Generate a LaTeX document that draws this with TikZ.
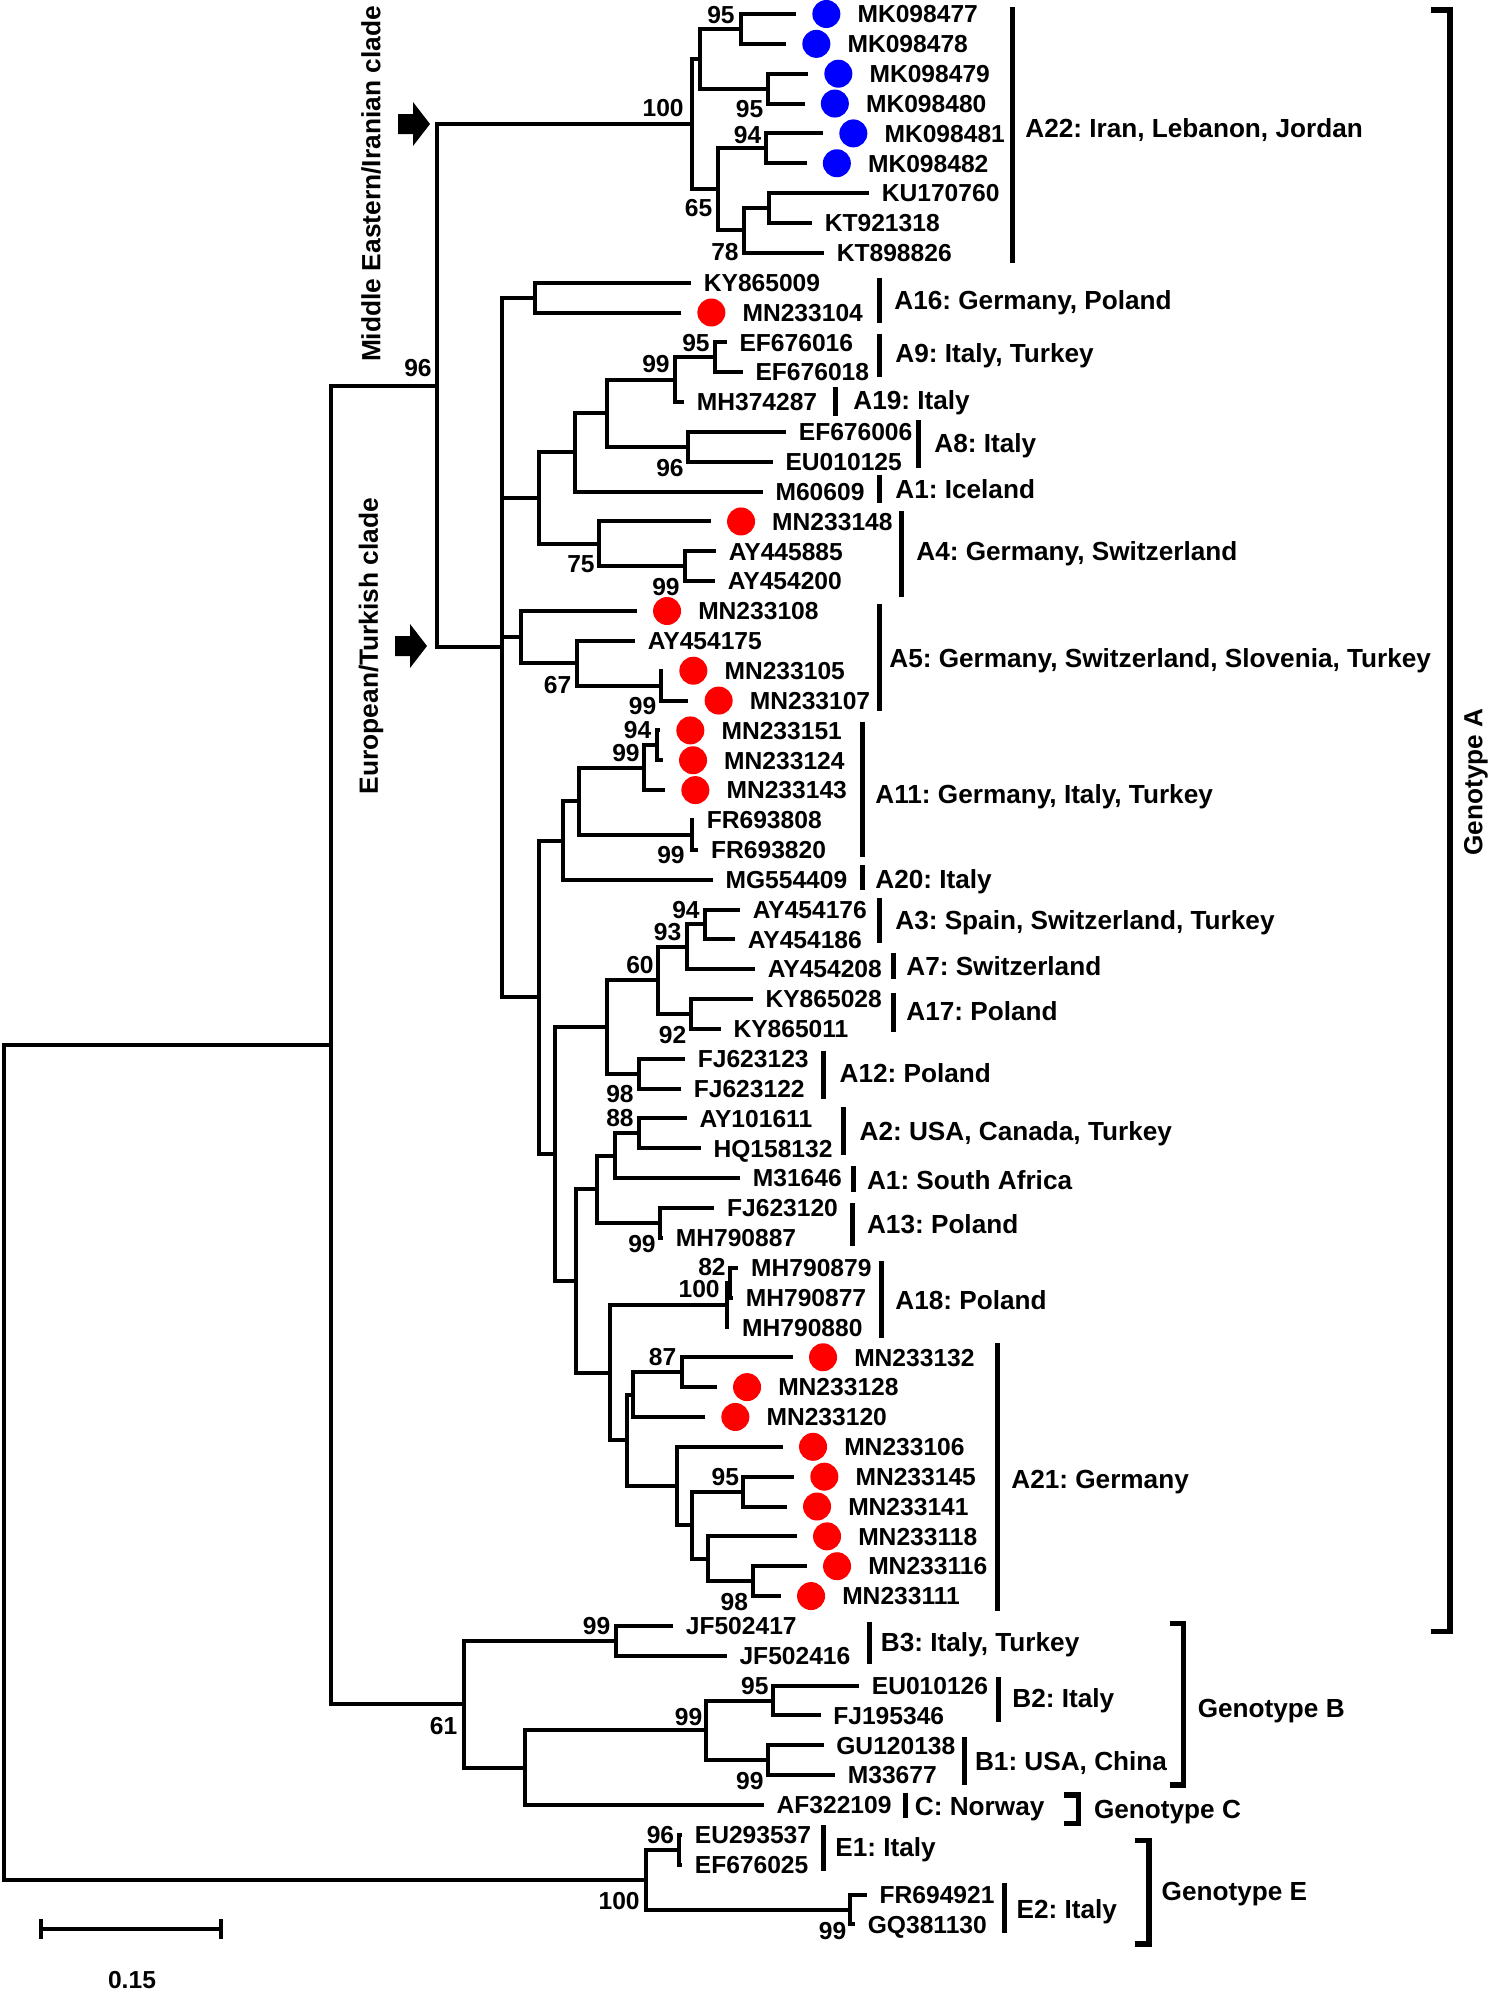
\documentclass[tikz,border=0pt]{standalone}
\usepackage{fontspec}
\setmainfont{Liberation Sans}
\usetikzlibrary{positioning}
\definecolor{dotblue}{RGB}{0,0,255}
\definecolor{dotred}{RGB}{255,0,0}
\frenchspacing

\begin{document}
\begin{tikzpicture}[x=0.02cm, y=-0.02cm,
    branch/.style={every edge/.style={draw, line width=0.08cm, to path={|- (\tikztotarget)}}},
    taxon/.style={font=\fontsize{14}{16}\selectfont\bfseries, inner sep=0pt, text height=0.35cm, text depth=0pt, anchor=west},
    group/.style={font=\fontsize{14.9}{17}\selectfont\bfseries, inner sep=0pt, text height=0.37cm, text depth=0pt, anchor=west},
    boot/.style={font=\fontsize{14}{16}\selectfont\bfseries, inner sep=0pt, text height=0.35cm, text depth=0pt, anchor=east},
    clade name/.style={font=\fontsize{15}{17}\selectfont\bfseries, inner sep=0pt, rotate=90},
    blue dot/.style={circle, fill=dotblue, minimum size=0.56cm, inner sep=0pt},
    red dot/.style={circle, fill=dotred, minimum size=0.56cm, inner sep=0pt},
    clade bar/.style={line width=0.1cm},
    genotype bar/.style={line width=0.11cm}]
    \useasboundingbox (0,0) rectangle (1490,1992);

    % tips
    \coordinate (t1) at (796,14);
    \coordinate (t2) at (786,43.85);
    \coordinate (t3) at (808,73.7);
    \coordinate (t4) at (804.5,103.55);
    \coordinate (t5) at (823,133.4);
    \coordinate (t6) at (806.5,163.25);
    \coordinate (t7) at (869,193.1);
    \coordinate (t8) at (812,222.95);
    \coordinate (t9) at (824,252.8);
    \coordinate (t10) at (691,282.65);
    \coordinate (t11) at (681,312.5);
    \coordinate (t12) at (726.7,342.35);
    \coordinate (t13) at (742.7,372.2);
    \coordinate (t14) at (684,402.05);
    \coordinate (t15) at (786,431.9);
    \coordinate (t16) at (772.7,461.75);
    \coordinate (t17) at (762.7,491.6);
    \coordinate (t18) at (710.7,521.45);
    \coordinate (t19) at (716,551.3);
    \coordinate (t20) at (715,581.15);
    \coordinate (t21) at (636.7,611);
    \coordinate (t22) at (635,640.85);
    \coordinate (t23) at (663,670.7);
    \coordinate (t24) at (688.3,700.55);
    \coordinate (t25) at (660,730.4);
    \coordinate (t26) at (662.7,760.25);
    \coordinate (t27) at (665,790.1);
    \coordinate (t28) at (694,819.95);
    \coordinate (t29) at (698.3,849.8);
    \coordinate (t30) at (712.7,879.65);
    \coordinate (t31) at (740,909.5);
    \coordinate (t32) at (735,939.35);
    \coordinate (t33) at (755,969.2);
    \coordinate (t34) at (752.7,999.05);
    \coordinate (t35) at (720.7,1028.9);
    \coordinate (t36) at (685,1058.75);
    \coordinate (t37) at (681,1088.6);
    \coordinate (t38) at (686.7,1118.45);
    \coordinate (t39) at (700.7,1148.3);
    \coordinate (t40) at (740,1178.15);
    \coordinate (t41) at (714.3,1208);
    \coordinate (t42) at (663,1237.85);
    \coordinate (t43) at (738.3,1267.7);
    \coordinate (t44) at (733,1297.55);
    \coordinate (t45) at (729.3,1327.4);
    \coordinate (t46) at (792.7,1357.25);
    \coordinate (t47) at (716.7,1387.1);
    \coordinate (t48) at (705,1416.95);
    \coordinate (t49) at (782.7,1446.8);
    \coordinate (t50) at (794,1476.65);
    \coordinate (t51) at (786.7,1506.5);
    \coordinate (t52) at (796.7,1536.35);
    \coordinate (t53) at (806.7,1566.2);
    \coordinate (t54) at (780.7,1596.05);
    \coordinate (t55) at (673,1625.9);
    \coordinate (t56) at (726.7,1655.75);
    \coordinate (t57) at (859,1685.6);
    \coordinate (t58) at (820.5,1715.45);
    \coordinate (t59) at (823.5,1745.3);
    \coordinate (t60) at (835,1775.15);
    \coordinate (t61) at (763.8,1805);
    \coordinate (t62) at (682,1834.85);
    \coordinate (t63) at (682,1864.7);
    \coordinate (t64) at (866.8,1894.55);
    \coordinate (t65) at (855,1924.4);

    % inner nodes
    \coordinate (root) at (4,1462.3);
    \coordinate (nAB) at (330.5,1045);
    \coordinate (n96) at (437,385.8);
    \coordinate (nME) at (692,124.1);
    \coordinate (a1) at (700.4,58.8);
    \coordinate (a1a) at (741.2,28.9);
    \coordinate (a1b) at (767.8,88.6);
    \coordinate (a2) at (718,189.4);
    \coordinate (a2a) at (765.7,148.3);
    \coordinate (a2b) at (744,230.4);
    \coordinate (a2c) at (768.6,208);
    \coordinate (nEU) at (501.7,647.4);
    \coordinate (b1) at (535,297.6);
    \coordinate (b2) at (539.3,498.1);
    \coordinate (b2a) at (575,452.4);
    \coordinate (b2c) at (607.3,413.2);
    \coordinate (b2d) at (675,379.7);
    \coordinate (b2f) at (715,357.3);
    \coordinate (b2e) at (688.3,446.8);
    \coordinate (b2b) at (599.3,543.8);
    \coordinate (b2g) at (685,566.2);
    \coordinate (b3) at (520.7,637.1);
    \coordinate (b3a) at (576.7,663.2);
    \coordinate (b3b) at (661,685.6);
    \coordinate (b4) at (539.3,997.3);
    \coordinate (c1) at (562.7,840.5);
    \coordinate (c1a) at (579.3,801.3);
    \coordinate (c1b) at (644.3,767.7);
    \coordinate (c1d) at (656.7,745.3);
    \coordinate (c1c) at (691.7,834.9);
    \coordinate (c2) at (555,1154);
    \coordinate (d1) at (606.7,1027);
    \coordinate (d1a) at (658.3,980.4);
    \coordinate (d1c) at (686.7,946.8);
    \coordinate (d1e) at (705,924.4);
    \coordinate (d1d) at (690.7,1014);
    \coordinate (d1b) at (639.3,1073.7);
    \coordinate (d2) at (576,1281);
    \coordinate (d2a) at (596.7,1189.3);
    \coordinate (d2c) at (615,1155.8);
    \coordinate (d2e) at (639.3,1133.4);
    \coordinate (d2d) at (660,1222.9);
    \coordinate (d2b) at (610,1372.7);
    \coordinate (d2f) at (726.7,1305);
    \coordinate (d2h) at (730,1282.6);
    \coordinate (d2g) at (626.7,1440.3);
    \coordinate (d2i) at (632.7,1394.6);
    \coordinate (d2k) at (681.7,1372.2);
    \coordinate (d2j) at (676.7,1486);
    \coordinate (d2l) at (691.7,1525.2);
    \coordinate (d2m) at (742.7,1491.6);
    \coordinate (d2n) at (707.7,1558.7);
    \coordinate (d2o) at (752.7,1581.1);
    \coordinate (nB) at (463.8,1704.3);
    \coordinate (e1) at (615.7,1640.8);
    \coordinate (e2) at (525,1767.7);
    \coordinate (e3) at (706.4,1730.4);
    \coordinate (e4) at (772.6,1700.5);
    \coordinate (e5) at (767.7,1760.2);
    \coordinate (nE) at (645.8,1879.6);
    \coordinate (f1) at (679,1849.8);
    \coordinate (f2) at (849.6,1909.5);

    \path[branch]
        (root) edge (nAB) edge (nE)
        (nAB) edge (n96) edge (nB)
        (n96) edge (nME) edge (nEU)
        (nME) edge (a1) edge (a2)
        (a1) edge (a1a) edge (a1b)
        (a1a) edge (t1) edge (t2)
        (a1b) edge (t3) edge (t4)
        (a2) edge (a2a) edge (a2b)
        (a2a) edge (t5) edge (t6)
        (a2b) edge (a2c) edge (t9)
        (a2c) edge (t7) edge (t8)

        (nEU) edge (b1) edge (b2) edge (b3) edge (b4)
        (b1) edge (t10) edge (t11)
        (b2) edge (b2a) edge (b2b)
        (b2a) edge (b2c) edge (t17)
        (b2c) edge (b2d) edge (b2e)
        (b2d) edge (b2f) edge (t14)
        (b2f) edge (t12) edge (t13)
        (b2e) edge (t15) edge (t16)
        (b2b) edge (t18) edge (b2g)
        (b2g) edge (t19) edge (t20)
        (b3) edge (t21) edge (b3a)
        (b3a) edge (t22) edge (b3b)
        (b3b) edge (t23) edge (t24)
        (b4) edge (c1) edge (c2)
        (c1) edge (c1a) edge (t30)
        (c1a) edge (c1b) edge (c1c)
        (c1b) edge (c1d) edge (t27)
        (c1d) edge (t25) edge (t26)
        (c1c) edge (t28) edge (t29)
        (c2) edge (d1) edge (d2)
        (d1) edge (d1a) edge (d1b)
        (d1a) edge (d1c) edge (d1d)
        (d1c) edge (d1e) edge (t33)
        (d1e) edge (t31) edge (t32)
        (d1d) edge (t34) edge (t35)
        (d1b) edge (t36) edge (t37)
        (d2) edge (d2a) edge (d2b)
        (d2a) edge (d2c) edge (d2d)
        (d2c) edge (d2e) edge (t40)
        (d2e) edge (t38) edge (t39)
        (d2d) edge (t41) edge (t42)
        (d2b) edge (d2f) edge (d2g)
        (d2f) edge (d2h) edge (t45)
        (d2h) edge (t43) edge (t44)
        (d2g) edge (d2i) edge (d2j)
        (d2i) edge (d2k) edge (t48)
        (d2k) edge (t46) edge (t47)
        (d2j) edge (t49) edge (d2l)
        (d2l) edge (d2m) edge (d2n)
        (d2m) edge (t50) edge (t51)
        (d2n) edge (t52) edge (d2o)
        (d2o) edge (t53) edge (t54)

        (nB) edge (e1) edge (e2)
        (e1) edge (t55) edge (t56)
        (e2) edge (e3) edge (t61)
        (e3) edge (e4) edge (e5)
        (e4) edge (t57) edge (t58)
        (e5) edge (t59) edge (t60)
        (nE) edge (f1) edge (f2)
        (f1) edge (t62) edge (t63)
        (f2) edge (t64) edge (t65)
    ;

    % taxa
    \node[blue dot, right=0.32cm of t1] (dot1) {};
    \node[taxon, right=0.33cm of dot1] (lab1) {MK098477};
    \node[blue dot, right=0.32cm of t2] (dot2) {};
    \node[taxon, right=0.33cm of dot2] (lab2) {MK098478};
    \node[blue dot, right=0.32cm of t3] (dot3) {};
    \node[taxon, right=0.33cm of dot3] (lab3) {MK098479};
    \node[blue dot, right=0.32cm of t4] (dot4) {};
    \node[taxon, right=0.33cm of dot4] (lab4) {MK098480};
    \node[blue dot, right=0.32cm of t5] (dot5) {};
    \node[taxon, right=0.33cm of dot5] (lab5) {MK098481};
    \node[blue dot, right=0.32cm of t6] (dot6) {};
    \node[taxon, right=0.33cm of dot6] (lab6) {MK098482};
    \node[taxon, right=0.25cm of t7] (lab7) {KU170760};
    \node[taxon, right=0.25cm of t8] (lab8) {KT921318};
    \node[taxon, right=0.25cm of t9] (lab9) {KT898826};
    \node[taxon, right=0.25cm of t10] (lab10) {KY865009};
    \node[red dot, right=0.32cm of t11] (dot11) {};
    \node[taxon, right=0.33cm of dot11] (lab11) {MN233104};
    \node[taxon, right=0.25cm of t12] (lab12) {EF676016};
    \node[taxon, right=0.25cm of t13] (lab13) {EF676018};
    \node[taxon, right=0.25cm of t14] (lab14) {MH374287};
    \node[taxon, right=0.25cm of t15] (lab15) {EF676006};
    \node[taxon, right=0.25cm of t16] (lab16) {EU010125};
    \node[taxon, right=0.25cm of t17] (lab17) {M60609};
    \node[red dot, right=0.32cm of t18] (dot18) {};
    \node[taxon, right=0.33cm of dot18] (lab18) {MN233148};
    \node[taxon, right=0.25cm of t19] (lab19) {AY445885};
    \node[taxon, right=0.25cm of t20] (lab20) {AY454200};
    \node[red dot, right=0.32cm of t21] (dot21) {};
    \node[taxon, right=0.33cm of dot21] (lab21) {MN233108};
    \node[taxon, right=0.25cm of t22] (lab22) {AY454175};
    \node[red dot, right=0.32cm of t23] (dot23) {};
    \node[taxon, right=0.33cm of dot23] (lab23) {MN233105};
    \node[red dot, right=0.32cm of t24] (dot24) {};
    \node[taxon, right=0.33cm of dot24] (lab24) {MN233107};
    \node[red dot, right=0.32cm of t25] (dot25) {};
    \node[taxon, right=0.33cm of dot25] (lab25) {MN233151};
    \node[red dot, right=0.32cm of t26] (dot26) {};
    \node[taxon, right=0.33cm of dot26] (lab26) {MN233124};
    \node[red dot, right=0.32cm of t27] (dot27) {};
    \node[taxon, right=0.33cm of dot27] (lab27) {MN233143};
    \node[taxon, right=0.25cm of t28] (lab28) {FR693808};
    \node[taxon, right=0.25cm of t29] (lab29) {FR693820};
    \node[taxon, right=0.25cm of t30] (lab30) {MG554409};
    \node[taxon, right=0.25cm of t31] (lab31) {AY454176};
    \node[taxon, right=0.25cm of t32] (lab32) {AY454186};
    \node[taxon, right=0.25cm of t33] (lab33) {AY454208};
    \node[taxon, right=0.25cm of t34] (lab34) {KY865028};
    \node[taxon, right=0.25cm of t35] (lab35) {KY865011};
    \node[taxon, right=0.25cm of t36] (lab36) {FJ623123};
    \node[taxon, right=0.25cm of t37] (lab37) {FJ623122};
    \node[taxon, right=0.25cm of t38] (lab38) {AY101611};
    \node[taxon, right=0.25cm of t39] (lab39) {HQ158132};
    \node[taxon, right=0.25cm of t40] (lab40) {M31646};
    \node[taxon, right=0.25cm of t41] (lab41) {FJ623120};
    \node[taxon, right=0.25cm of t42] (lab42) {MH790887};
    \node[taxon, right=0.25cm of t43] (lab43) {MH790879};
    \node[taxon, right=0.25cm of t44] (lab44) {MH790877};
    \node[taxon, right=0.25cm of t45] (lab45) {MH790880};
    \node[red dot, right=0.32cm of t46] (dot46) {};
    \node[taxon, right=0.33cm of dot46] (lab46) {MN233132};
    \node[red dot, right=0.32cm of t47] (dot47) {};
    \node[taxon, right=0.33cm of dot47] (lab47) {MN233128};
    \node[red dot, right=0.32cm of t48] (dot48) {};
    \node[taxon, right=0.33cm of dot48] (lab48) {MN233120};
    \node[red dot, right=0.32cm of t49] (dot49) {};
    \node[taxon, right=0.33cm of dot49] (lab49) {MN233106};
    \node[red dot, right=0.32cm of t50] (dot50) {};
    \node[taxon, right=0.33cm of dot50] (lab50) {MN233145};
    \node[red dot, right=0.32cm of t51] (dot51) {};
    \node[taxon, right=0.33cm of dot51] (lab51) {MN233141};
    \node[red dot, right=0.32cm of t52] (dot52) {};
    \node[taxon, right=0.33cm of dot52] (lab52) {MN233118};
    \node[red dot, right=0.32cm of t53] (dot53) {};
    \node[taxon, right=0.33cm of dot53] (lab53) {MN233116};
    \node[red dot, right=0.32cm of t54] (dot54) {};
    \node[taxon, right=0.33cm of dot54] (lab54) {MN233111};
    \node[taxon, right=0.25cm of t55] (lab55) {JF502417};
    \node[taxon, right=0.25cm of t56] (lab56) {JF502416};
    \node[taxon, right=0.25cm of t57] (lab57) {EU010126};
    \node[taxon, right=0.25cm of t58] (lab58) {FJ195346};
    \node[taxon, right=0.25cm of t59] (lab59) {GU120138};
    \node[taxon, right=0.25cm of t60] (lab60) {M33677};
    \node[taxon, right=0.25cm of t61] (lab61) {AF322109};
    \node[taxon, right=0.25cm of t62] (lab62) {EU293537};
    \node[taxon, right=0.25cm of t63] (lab63) {EF676025};
    \node[taxon, right=0.25cm of t64] (lab64) {FR694921};
    \node[taxon, right=0.25cm of t65] (lab65) {GQ381130};

    % bootstrap values
    \node[boot] (bs1) at (735,15) {95};
    \node[boot] (bs2) at (763.7,109) {95};
    \node[boot] (bs3) at (684,108) {100};
    \node[boot] (bs4) at (761.6,134.5) {94};
    \node[boot] (bs5) at (712.7,208) {65};
    \node[boot] (bs6) at (739,251.7) {78};
    \node[boot] (bs7) at (432,368) {96};
    \node[boot] (bs8) at (710,342.5) {95};
    \node[boot] (bs9) at (670,364) {99};
    \node[boot] (bs10) at (684,467.5) {96};
    \node[boot] (bs11) at (595,564) {75};
    \node[boot] (bs12) at (680,587) {99};
    \node[boot] (bs13) at (571.7,685) {67};
    \node[boot] (bs14) at (656.7,706) {99};
    \node[boot] (bs15) at (651.7,730) {94};
    \node[boot] (bs16) at (640,752.5) {99};
    \node[boot] (bs17) at (685,855) {99};
    \node[boot] (bs18) at (700,910) {94};
    \node[boot] (bs19) at (681.7,931.7) {93};
    \node[boot] (bs20) at (654,964.7) {60};
    \node[boot] (bs21) at (686.7,1035) {92};
    \node[boot] (bs22) at (634,1094) {98};
    \node[boot] (bs23) at (634,1118) {88};
    \node[boot] (bs24) at (656,1244) {99};
    \node[boot] (bs25) at (726,1267) {82};
    \node[boot] (bs26) at (720,1289) {100};
    \node[boot] (bs27) at (676.7,1357) {87};
    \node[boot] (bs28) at (739.3,1477) {95};
    \node[boot] (bs29) at (748.3,1602) {98};
    \node[boot] (bs30) at (610.7,1626) {99};
    \node[boot] (bs31) at (457.7,1726) {61};
    \node[boot] (bs32) at (702.6,1717) {99};
    \node[boot] (bs33) at (768.8,1686) {95};
    \node[boot] (bs34) at (763.8,1781) {99};
    \node[boot] (bs35) at (674.5,1835) {96};
    \node[boot] (bs36) at (640,1901) {100};
    \node[boot] (bs37) at (846.7,1931) {99};

    % subgenotype bars
    \draw[clade bar] (1012,7) -- (1012,263);
    \node[group] (A22) at (1025,128) {A22: Iran, Lebanon, Jordan};
    \draw[clade bar] (879,278) -- (879,322.7);
    \node[group] (A16) at (894,300) {A16: Germany, Poland};
    \draw[clade bar] (879,334) -- (879,377);
    \node[group] (A9) at (895,353) {A9: Italy, Turkey};
    \draw[clade bar] (835,386.7) -- (835,416);
    \node[group] (A19) at (853,400) {A19: Italy};
    \draw[clade bar] (918,420) -- (918,468);
    \node[group] (A8) at (934,443) {A8: Italy};
    \draw[clade bar] (879,475) -- (879,503);
    \node[group] (A1i) at (895,489) {A1: Iceland};
    \draw[clade bar] (901.7,510.7) -- (901.7,597);
    \node[group] (A4) at (916,551) {A4: Germany, Switzerland};
    \draw[clade bar] (879,604) -- (879,710.7);
    \node[group] (A5) at (889,658) {A5: Germany, Switzerland, Slovenia, Turkey};
    \draw[clade bar] (862.7,721.7) -- (862.7,856.7);
    \node[group] (A11) at (875,794) {A11: Germany, Italy, Turkey};
    \draw[clade bar] (862.7,865) -- (862.7,890);
    \node[group] (A20) at (875,879) {A20: Italy};
    \draw[clade bar] (879,898) -- (879,943);
    \node[group] (A3) at (895,920) {A3: Spain, Switzerland, Turkey};
    \draw[clade bar] (893.3,952.7) -- (893.3,979.3);
    \node[group] (A7) at (906,966) {A7: Switzerland};
    \draw[clade bar] (893.3,992.7) -- (893.3,1031.7);
    \node[group] (A17) at (906,1011) {A17: Poland};
    \draw[clade bar] (823.3,1050.7) -- (823.3,1099.3);
    \node[group] (A12) at (839.3,1073) {A12: Poland};
    \draw[clade bar] (843.3,1106.7) -- (843.3,1155);
    \node[group] (A2) at (859.3,1131) {A2: USA, Canada, Turkey};
    \draw[clade bar] (853.3,1166) -- (853.3,1191.7);
    \node[group] (A1s) at (866.7,1180) {A1: South Africa};
    \draw[clade bar] (852.7,1203) -- (852.7,1246);
    \node[group] (A13) at (866.7,1224) {A13: Poland};
    \draw[clade bar] (881,1260.7) -- (881,1338.3);
    \node[group] (A18) at (895,1300) {A18: Poland};
    \draw[clade bar] (997,1342.7) -- (997,1611);
    \node[group] (A21) at (1011,1479) {A21: Germany};
    \draw[clade bar] (869,1621.7) -- (869,1664);
    \node[group] (B3) at (880.6,1642.7) {B3: Italy, Turkey};
    \draw[clade bar] (998.4,1677.3) -- (998.4,1721.7);
    \node[group] (B2) at (1012,1698.3) {B2: Italy};
    \draw[clade bar] (964.4,1736.7) -- (964.4,1785);
    \node[group] (B1) at (974.7,1761.7) {B1: USA, China};
    \draw[clade bar] (905,1792.7) -- (905,1817.7);
    \node[group] (Cn) at (914.6,1806.7) {C: Norway};
    \draw[clade bar] (823.8,1825) -- (823.8,1870.7);
    \node[group] (E1) at (835,1847.3) {E1: Italy};
    \draw[clade bar] (1004.6,1882.7) -- (1004.6,1932.7);
    \node[group] (E2) at (1016.2,1909.3) {E2: Italy};

    % genotype brackets
    \draw[genotype bar] (1431,10) -| (1450,1631.5) -- (1431,1631.5);
    \node[group, rotate=90, anchor=center] (genoA) at (1473,782) {Genotype A};
    \draw[genotype bar] (1169.6,1623.3) -| (1183.3,1785) -- (1169.6,1785);
    \node[group] (genoB) at (1197.4,1708.3) {Genotype B};
    \draw[genotype bar] (1064,1795) -| (1078.4,1823.3) -- (1064,1823.3);
    \node[group] (genoC) at (1093.7,1809.3) {Genotype C};
    \draw[genotype bar] (1135,1840.7) -| (1149,1944) -- (1135,1944);
    \node[group] (genoE) at (1161.3,1891.7) {Genotype E};

    % clade arrows and names
    \fill[shift={(414,124)}] (-16,-10) -- (-1,-10) -- (-1,-22) -- (16,0) -- (-1,22) -- (-1,10) -- (-16,10) -- cycle;
    \fill[shift={(411,646)}] (-16,-10) -- (-1,-10) -- (-1,-22) -- (16,0) -- (-1,22) -- (-1,10) -- (-16,10) -- cycle;
    \node[clade name] (mec) at (371,184) {Middle Eastern/Iranian clade};
    \node[clade name] (etc) at (371,646) {European/Turkish clade};

    % scale bar
    \draw[line width=0.08cm] (41.3,1919) -- (41.3,1939) (41.3,1929) -- (221,1929) (221,1919) -- (221,1939);
    \node[taxon, anchor=center] (scale) at (132,1980) {0.15};
\end{tikzpicture}
\end{document}
